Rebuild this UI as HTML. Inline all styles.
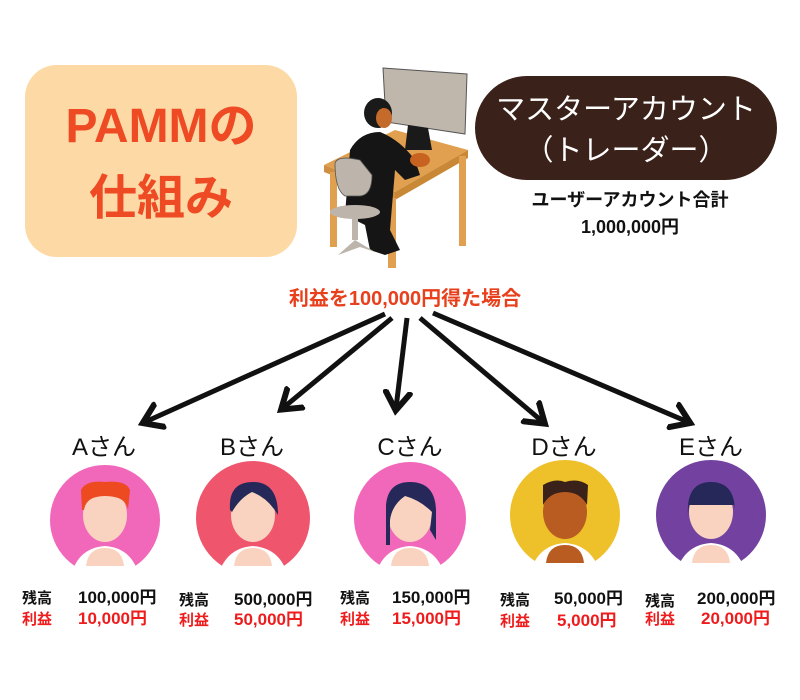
<!DOCTYPE html>
<html><head><meta charset="utf-8"><style>
body{margin:0;background:#fff;width:800px;height:700px;overflow:hidden}
svg{display:block}
text{font-family:"Liberation Sans","Noto Sans CJK JP",sans-serif}
</style></head><body>
<svg width="800" height="700" viewBox="0 0 800 700" xmlns="http://www.w3.org/2000/svg">
<defs>
<marker id="ah" markerWidth="6" markerHeight="6" refX="3.5" refY="3" orient="auto" markerUnits="strokeWidth">
<path d="M0,0.3 L4,3 L0,5.7" fill="none" stroke="#111" stroke-width="1.2"/>
</marker>
</defs>
<rect x="25" y="65" width="272" height="192" rx="32" fill="#fdd9a6"/>
<text x="161" y="142" text-anchor="middle" font-size="48" font-weight="bold" fill="#ee4a24">PAMMの</text>
<text x="161" y="214" text-anchor="middle" font-size="48" font-weight="bold" fill="#ee4a24">仕組み</text>

<g>
<polygon points="324,165 395,130 468,150 395,192" fill="#e0a04f"/>
<polygon points="324,165 395,192 395,200 324,172" fill="#d08f40"/>
<polygon points="395,192 468,150 468,158 395,200" fill="#c98836"/>
<rect x="330" y="172" width="7" height="75" fill="#e0a04f"/>
<rect x="388" y="198" width="8" height="70" fill="#e0a04f"/>
<rect x="459" y="156" width="7" height="90" fill="#e0a04f"/>
<polygon points="383,68 467,74 465,134 386,122" fill="#bfb7ac" stroke="#555" stroke-width="1"/>
<polygon points="408,125 428,128 432,150 405,150" fill="#1a1a1a"/>
<path d="M350,150 Q360,132 380,132 Q400,140 415,160 L420,175 L405,180 L395,170 L390,230 L400,250 L385,255 L370,250 L365,225 L345,215 Z" fill="#151515"/>
<ellipse cx="378" cy="113" rx="14" ry="15" fill="#1a1a1a"/>
<ellipse cx="384" cy="118" rx="8" ry="10" fill="#c46a2a"/>
<ellipse cx="420" cy="160" rx="10" ry="7" fill="#c86220"/>
<path d="M335,163 Q338,155 360,160 L372,175 Q372,195 360,196 L345,196 Q335,190 335,163Z" fill="#bdb5ab" stroke="#555" stroke-width="0.8"/>
<ellipse cx="355" cy="212" rx="25" ry="7" fill="#bdb5ab"/>
<rect x="352" y="215" width="6" height="25" fill="#bdb5ab"/>
<path d="M338,255 L355,240 L375,252 L360,247 Z" fill="#bdb5ab"/>
</g>

<rect x="475" y="76" width="302" height="104" rx="52" fill="#3a2119"/>
<text x="626" y="119" text-anchor="middle" font-size="29" fill="#fff">マスターアカウント</text>
<text x="626" y="160" text-anchor="middle" font-size="29" fill="#fff">（トレーダー）</text>
<text x="630" y="206" text-anchor="middle" font-size="18" font-weight="bold" fill="#111">ユーザーアカウント合計</text>
<text x="630" y="233" text-anchor="middle" font-size="18" font-weight="bold" fill="#111">1,000,000円</text>

<text x="405" y="305" text-anchor="middle" font-size="20" font-weight="bold" fill="#e8401c">利益を100,000円得た場合</text>

<g stroke="#111" stroke-width="5" fill="none" marker-end="url(#ah)">
<line x1="385" y1="314" x2="145" y2="422"/>
<line x1="392" y1="318" x2="283" y2="408"/>
<line x1="407" y1="318" x2="396" y2="408"/>
<line x1="420" y1="318" x2="543" y2="422"/>
<line x1="433" y1="313" x2="688" y2="422"/>
</g>

<g font-size="24" fill="#111" text-anchor="middle">
<text x="104" y="455">Aさん</text>
<text x="252" y="455">Bさん</text>
<text x="410" y="455">Cさん</text>
<text x="564" y="455">Dさん</text>
<text x="711" y="455">Eさん</text>
</g>

<g>
<circle cx="105" cy="520" r="55" fill="#f168bb"/>
<path d="M70,580 Q76,548 105,546 Q134,548 140,580 Z" fill="#fff"/>
<path d="M86,566 Q88,548 105,548 Q122,548 124,566Z" fill="#f9d3bf"/>
<ellipse cx="105" cy="515" rx="22" ry="27" fill="#f9d3bf"/>
<path d="M82,510 L81,490 Q86,480 105,482 Q126,480 130,490 L128,510 Q126,496 105,496 Q86,496 84,510Z" fill="#ee4a22"/>
</g>
<g>
<circle cx="253" cy="518" r="57" fill="#ef566d"/>
<path d="M217,580 Q224,548 253,546 Q282,548 289,580 Z" fill="#fff"/>
<path d="M234,566 Q236,548 253,548 Q270,548 272,566Z" fill="#f9d3bf"/>
<ellipse cx="253" cy="515" rx="22" ry="27" fill="#f9d3bf"/>
<path d="M230,510 Q228,482 253,482 Q278,482 278,515 Q268,498 252,492 Q240,498 232,512Z" fill="#252858"/>
</g>
<g>
<circle cx="410" cy="518" r="56" fill="#f168bb"/>
<path d="M374,580 Q381,548 410,546 Q439,548 446,580 Z" fill="#fff"/>
<path d="M391,566 Q393,548 410,548 Q427,548 429,566Z" fill="#f9d3bf"/>
<ellipse cx="410" cy="515" rx="22" ry="27" fill="#f9d3bf"/>
<path d="M386,545 L386,505 Q388,482 410,482 Q435,482 436,510 L436,540 L430,530 L432,512 Q420,500 405,496 Q392,505 390,520 L390,545Z" fill="#252858"/>
</g>
<g>
<circle cx="565" cy="515" r="55" fill="#eec12a"/>
<path d="M529,577 Q536,545 565,543 Q594,545 601,577 Z" fill="#fff"/>
<path d="M546,563 Q548,545 565,545 Q582,545 584,563Z" fill="#b85c22"/>
<ellipse cx="565" cy="512" rx="22" ry="27" fill="#b85c22"/>
<path d="M543,505 L543,485 Q555,478 565,482 Q578,478 588,485 L587,505 Q580,492 565,492 Q550,492 543,505Z" fill="#3a2119"/>
</g>
<g>
<circle cx="711" cy="515" r="55" fill="#7342a0"/>
<path d="M675,577 Q682,545 711,543 Q740,545 747,577 Z" fill="#fff"/>
<path d="M692,563 Q694,545 711,545 Q728,545 730,563Z" fill="#f9d3bf"/>
<ellipse cx="711" cy="512" rx="22" ry="27" fill="#f9d3bf"/>
<path d="M688,515 Q686,482 711,482 Q736,482 735,515 L735,505 L689,505Z" fill="#252858"/>
</g>
<rect x="0" y="566" width="800" height="20" fill="#fff"/>

<g font-size="15" font-weight="bold">
<text x="22" y="603" fill="#111">残高</text><text x="78" y="603" font-size="17" fill="#111">100,000円</text>
<text x="22" y="624" fill="#ee1c1c">利益</text><text x="78" y="624" font-size="17" fill="#ee1c1c">10,000円</text>
<text x="179" y="605" fill="#111">残高</text><text x="234" y="605" font-size="17" fill="#111">500,000円</text>
<text x="179" y="625" fill="#ee1c1c">利益</text><text x="234" y="625" font-size="17" fill="#ee1c1c">50,000円</text>
<text x="340" y="603" fill="#111">残高</text><text x="392" y="603" font-size="17" fill="#111">150,000円</text>
<text x="340" y="624" fill="#ee1c1c">利益</text><text x="392" y="624" font-size="17" fill="#ee1c1c">15,000円</text>
<text x="500" y="605" fill="#111">残高</text><text x="554" y="604" font-size="17" fill="#111">50,000円</text>
<text x="500" y="626" fill="#ee1c1c">利益</text><text x="557" y="626" font-size="17" fill="#ee1c1c">5,000円</text>
<text x="645" y="606" fill="#111">残高</text><text x="697" y="604" font-size="17" fill="#111">200,000円</text>
<text x="645" y="624" fill="#ee1c1c">利益</text><text x="701" y="624" font-size="17" fill="#ee1c1c">20,000円</text>
</g>
</svg>
</body></html>
